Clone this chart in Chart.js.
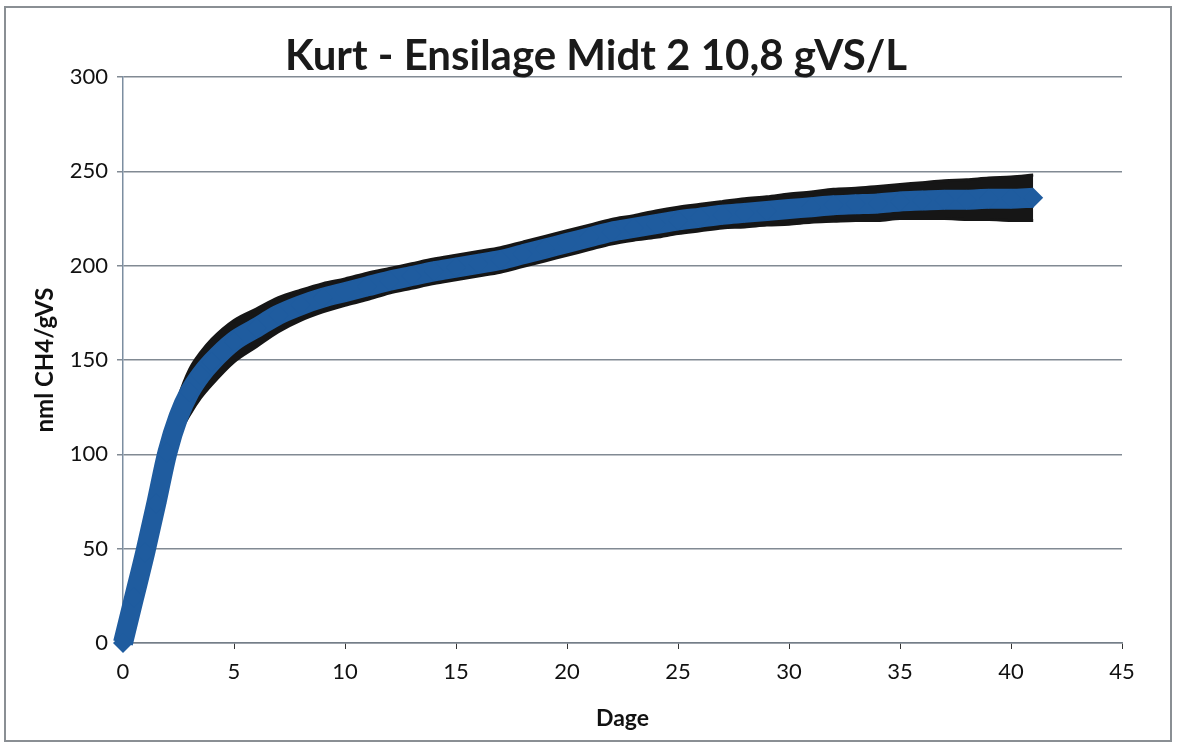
<!DOCTYPE html>
<html>
<head>
<meta charset="utf-8">
<script src="https://cdn.jsdelivr.net/npm/chart.js@4.4.1/dist/chart.umd.min.js"></script>
<style>
  html, body { margin: 0; padding: 0; background: #ffffff; }
  #wrap { position: relative; width: 1182px; height: 749px; }
  #frame { position: absolute; left: 4px; top: 6px; width: 1168px; height: 736px; border: 2px solid #8a8f94; box-sizing: border-box; pointer-events: none; }
  canvas { position: absolute; left: 0; top: 0; }
</style>
</head>
<body>
<div id="wrap">
  <canvas id="c" width="1182" height="749"></canvas>
  <div id="frame"></div>
</div>
<script>
// ---- data ----
const chartTitle = "Kurt - Ensilage Midt 2 10,8 gVS/L";
const xTitle = "Dage";
const yTitle = "nml CH4/gVS";
const days = [0,0.5,1,1.5,2,2.5,3,3.5,4,5,6,7,8,9,10,11,12,13,14,15,16,17,18,19,20,21,22,23,24,25,26,27,28,29,30,31,32,33,34,35,36,37,38,39,40,41];
const meanCH4 = [0,24,48,74,101,120,133,142,149,160,167,174,179,183,186,189,192,194.5,197,199,201,203,206,209,212,215,218,220,222,224,225.5,227,228,229,230,231,232,232.5,233,234,234.5,235,235,235.5,235.5,236];
const errCH4 = [0,1,2,4,7,10,12,12,12,11,10,9,8,7.5,7,7,6.5,6.5,6.5,6.5,6.5,6.5,6.5,6.5,6.5,6.5,6.5,6.5,7,7,7,7,7.5,7.5,8,8,8.5,8.5,9,9,9.5,10,10.5,11,11.5,12];
const xTicks = { min: 0, max: 45, step: 5 };
const yTicks = { min: 0, max: 300, step: 50 };

const meanPts = days.map((d, i) => ({ x: d, y: meanCH4[i] }));
const upperPts = days.map((d, i) => ({ x: d, y: meanCH4[i] + errCH4[i] }));
const lowerPts = days.map((d, i) => ({ x: d, y: meanCH4[i] - errCH4[i] }));

const BLUE = '#1f5c9f';
const BLACK = '#161616';
const GRID = 'rgba(115,125,135,0.9)';
const FAM = "Lato, 'Open Sans', 'Noto Sans', sans-serif";
const tickFont = { family: FAM, size: 22 };
const boldFont = (s) => ({ family: FAM, size: s, weight: 'bold' });

// Chart title drawn centred over the whole canvas (as in the reference)
const titlePlugin = {
  id: 'canvasTitle',
  afterDraw(chart) {
    const ctx = chart.ctx;
    ctx.save();
    ctx.font = "bold 42px " + FAM;
    ctx.fillStyle = '#1a1a1a';
    ctx.textAlign = 'center';
    ctx.textBaseline = 'middle';
    ctx.fillText(chartTitle, 596, 56);
    ctx.restore();
  }
};

new Chart(document.getElementById('c'), {
  type: 'line',
  data: {
    datasets: [
      {
        label: 'Middel',
        data: meanPts,
        borderColor: BLUE,
        backgroundColor: BLUE,
        borderWidth: 20,
        pointStyle: 'rectRot',
        pointRadius: 10,
        pointBorderWidth: 0,
        pointBackgroundColor: BLUE,
        cubicInterpolationMode: 'monotone',
        fill: false,
        clip: false
      },
      {
        label: 'Øvre',
        data: upperPts,
        borderColor: BLACK,
        borderWidth: 3,
        pointRadius: 0,
        cubicInterpolationMode: 'monotone',
        fill: false,
        clip: false
      },
      {
        label: 'Nedre',
        data: lowerPts,
        borderColor: BLACK,
        backgroundColor: BLACK,
        borderWidth: 3,
        pointRadius: 0,
        cubicInterpolationMode: 'monotone',
        fill: '-1',
        clip: false
      }
    ]
  },
  plugins: [titlePlugin],
  options: {
    responsive: false,
    animation: false,
    devicePixelRatio: 1,
    layout: { padding: { left: 25, right: 60, top: 77, bottom: 10 } },
    plugins: {
      legend: { display: false },
      tooltip: { enabled: false },
      title: { display: false }
    },
    scales: {
      x: {
        type: 'linear',
        min: xTicks.min,
        max: xTicks.max,
        ticks: { stepSize: xTicks.step, color: '#111', font: tickFont, padding: 10, maxRotation: 0 },
        grid: { drawOnChartArea: false, drawTicks: true, tickLength: 6, color: '#333', lineWidth: 1 },
        border: { display: true, color: GRID, width: 1.5 },
        title: { display: true, text: xTitle, color: '#111', font: boldFont(23), padding: { top: 4, bottom: 7 } },
        afterFit: (s) => { s.height = 749 - 643 - 10; }
      },
      y: {
        type: 'linear',
        min: yTicks.min,
        max: yTicks.max,
        ticks: { stepSize: yTicks.step, color: '#111', font: tickFont, padding: 9 },
        grid: { color: GRID, lineWidth: 1.5, drawTicks: true, tickLength: 6 },
        border: { display: true, color: 'rgba(110,130,150,0.9)', width: 1.5 },
        title: { display: true, text: yTitle, color: '#111', font: boldFont(24), padding: { top: 6, bottom: 4 } },
        afterFit: (s) => { s.width = 123 - 25; }
      }
    }
  }
});
</script>
</body>
</html>
